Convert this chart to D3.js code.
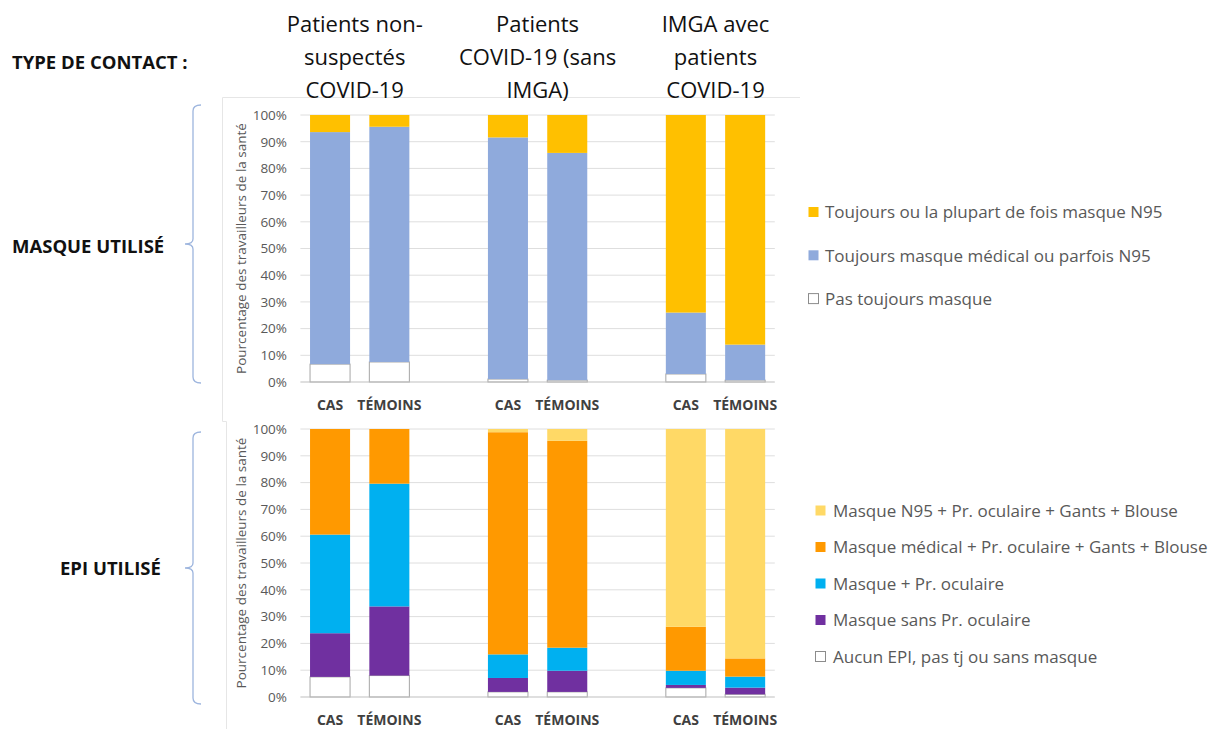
<!DOCTYPE html>
<html><head><meta charset="utf-8">
<script src="https://cdn.jsdelivr.net/npm/d3@7"></script>
<style>body{margin:0;background:#fff} svg{display:block;font-family:'Open Sans',sans-serif}</style>
</head><body><svg id="c" width="1217" height="729"></svg>
<script>
// ---------- DATA ----------
const contactTitles = [
  ["Patients non-", "suspectés", "COVID-19"],
  ["Patients", "COVID-19 (sans", "IMGA)"],
  ["IMGA avec", "patients", "COVID-19"]
];
const barLabels = ["CAS", "TÉMOINS"];
const yTicks = [0, 10, 20, 30, 40, 50, 60, 70, 80, 90, 100];

// Mask panel (bottom -> top), one value per bar: g1 CAS, g1 TÉM, g2 CAS, g2 TÉM, g3 CAS, g3 TÉM
const maskSeries = ["Pas toujours masque", "Toujours masque médical ou parfois N95", "Toujours ou la plupart de fois masque N95"];
const maskColors = ["#ffffff", "#8FAADC", "#FFC000"];
const maskPasToujours = [6.7, 7.5, 1.1, 0.7, 3.0, 0.7];
const maskMedical     = [86.9, 88.1, 90.5, 85.1, 23.0, 13.3];
const maskN95         = [6.4, 4.4, 8.4, 14.2, 74.0, 86.0];

// EPI panel (bottom -> top)
const epiSeries = ["Aucun EPI, pas tj ou sans masque", "Masque sans Pr. oculaire", "Masque + Pr. oculaire", "Masque médical + Pr. oculaire + Gants + Blouse", "Masque N95 + Pr. oculaire + Gants + Blouse"];
const epiColors = ["#ffffff", "#7030A0", "#00B0F0", "#FF9900", "#FFD966"];
const epiAucun   = [7.5, 8.0, 1.9, 1.9, 3.4, 1.0];
const epiSansOc  = [16.3, 25.8, 5.2, 7.9, 1.1, 2.5];
const epiOc      = [36.8, 45.8, 8.8, 8.6, 5.3, 4.1];
const epiMedical = [39.4, 20.4, 82.9, 77.2, 16.4, 6.8];
const epiN95     = [0, 0, 1.2, 4.4, 73.8, 85.6];

const sectionLabels = ["TYPE DE CONTACT :", "MASQUE UTILISÉ", "EPI UTILISÉ"];
const yAxisTitle = "Pourcentage des travailleurs de la santé";

// ---------- BUILD ----------
const svg = d3.select("#c");
const slots = [];
const barKeys = [];
contactTitles.forEach((t, g) => {
  barLabels.forEach(b => { slots.push(g + "|" + b); barKeys.push(g + "|" + b); });
  if (g < contactTitles.length - 1) slots.push("gap" + g);
});
const x = d3.scaleBand().domain(slots).range([300.4, 774.8]).paddingInner(0.325).paddingOuter(0.1625);

function rows(seriesVals) {
  return barKeys.map((k, i) => {
    const r = {key: k};
    seriesVals.forEach((v, s) => r["s" + s] = v[i]);
    return r;
  });
}

function panel(top, bottom, seriesNames, colors, vals, labelBaseline) {
  const y = d3.scaleLinear().domain([0, 100]).range([bottom, top]);
  const g = svg.append("g");
  // gridlines
  g.append("g").selectAll("line").data(yTicks.filter(d => d > 0)).join("line")
    .attr("x1", x.range()[0]).attr("x2", x.range()[1])
    .attr("y1", d => y(d)).attr("y2", d => y(d))
    .attr("stroke", "#dedede").attr("stroke-width", 1);
  // tick labels
  const ax = g.append("g").attr("transform", "translate(290,0)")
    .call(d3.axisLeft(y).tickValues(yTicks).tickFormat(d => d + "%").tickSize(0).tickPadding(3));
  ax.select(".domain").remove();
  ax.selectAll("text").attr("font-family", "'Open Sans',sans-serif").attr("font-size", 13.5).attr("fill", "#595959");
  // axis title
  g.append("text").attr("transform", `translate(246,${(top + bottom) / 2}) rotate(-90)`)
    .attr("text-anchor", "middle").attr("font-size", 13.5).attr("fill", "#595959").text(yAxisTitle);
  // stacks
  const keys = seriesNames.map((_, i) => "s" + i);
  const stack = d3.stack().keys(keys)(rows(vals));
  stack.forEach((layer, li) => {
    g.append("g").selectAll("rect").data(layer).join("rect")
      .attr("x", d => x(d.data.key)).attr("width", x.bandwidth())
      .attr("y", d => y(d[1])).attr("height", d => Math.max(0, y(d[0]) - y(d[1])))
      .attr("fill", colors[li])
      .attr("stroke", colors[li] === "#ffffff" ? "#a6a6a6" : "none").attr("stroke-width", 1);
  });
  // baseline
  g.append("line").attr("x1", x.range()[0]).attr("x2", x.range()[1])
    .attr("y1", y(0)).attr("y2", y(0)).attr("stroke", "#bfbfbf");
  // category labels
  g.append("g").selectAll("text").data(barKeys).join("text")
    .attr("x", d => x(d) + x.bandwidth() / 2).attr("y", labelBaseline)
    .attr("text-anchor", "middle").attr("font-size", 14).attr("font-weight", 700).attr("fill", "#404040")
    .text(d => d.split("|")[1]);
  return y;
}

// faint frames
const frame = svg.append("g").attr("stroke", "#e6e6e6").attr("fill", "none");
frame.append("path").attr("d", "M800,97.5 H222.5 V421.5 H226.5 V729");

panel(115, 382, maskSeries, maskColors, [maskPasToujours, maskMedical, maskN95], 410);
panel(429, 697, epiSeries, epiColors, [epiAucun, epiSansOc, epiOc, epiMedical, epiN95], 725);

// column titles
contactTitles.forEach((lines, g) => {
  const cx = (x(g + "|" + barLabels[0]) + x(g + "|" + barLabels[1]) + x.bandwidth()) / 2 - (g === 0 ? 5 : 0);
  svg.append("text").attr("text-anchor", "middle").attr("font-size", 22).attr("fill", "#111")
    .selectAll("tspan").data(lines).join("tspan")
    .attr("x", cx).attr("y", (d, i) => 32 + i * 33).text(d => d);
});

// section labels
svg.append("text").attr("x", 12).attr("y", 69).attr("font-size", 18.5).attr("font-weight", 700).attr("fill", "#111").text(sectionLabels[0]);
svg.append("text").attr("x", 12).attr("y", 253).attr("font-size", 18.5).attr("font-weight", 700).attr("fill", "#111").text(sectionLabels[1]);
svg.append("text").attr("x", 60).attr("y", 575).attr("font-size", 18.5).attr("font-weight", 700).attr("fill", "#111").text(sectionLabels[2]);

// braces
function brace(y1, y2, ym) {
  const xv = 193, tip = 185, hook = 201;
  return `M${hook},${y1} Q${xv},${y1} ${xv},${y1 + 6} L${xv},${ym - 5} Q${xv},${ym} ${tip},${ym} Q${xv},${ym} ${xv},${ym + 5} L${xv},${y2 - 6} Q${xv},${y2} ${hook},${y2}`;
}
svg.append("path").attr("d", brace(105, 383, 244)).attr("fill", "none").attr("stroke", "#9DB5DE").attr("stroke-width", 1.3);
svg.append("path").attr("d", brace(432, 704, 568)).attr("fill", "none").attr("stroke", "#9DB5DE").attr("stroke-width", 1.3);

// legends (top item = top of stack)
function legend(names, colors, mx, tx, y0, dy) {
  const items = names.map((n, i) => ({n, c: colors[i]})).reverse();
  const lg = svg.append("g");
  items.forEach((it, i) => {
    const cy = y0 + i * dy;
    lg.append("rect").attr("x", mx + 0.5).attr("y", cy - 5.5).attr("width", 10).attr("height", 10)
      .attr("fill", it.c).attr("stroke", it.c === "#ffffff" ? "#8c8c8c" : "none");
    lg.append("text").attr("x", tx).attr("y", cy).attr("dy", "0.35em").attr("font-size", 17).attr("fill", "#595959").text(it.n);
  });
}
legend(maskSeries, maskColors, 808, 825, 212.5, 43.3);
legend(epiSeries, epiColors, 815, 833, 511, 36.5);
</script></body></html>
